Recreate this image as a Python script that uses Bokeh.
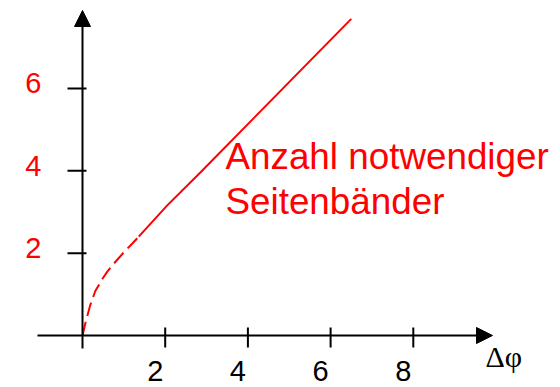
from bokeh.plotting import figure
from bokeh.models import Arrow, NormalHead, Range1d
from bokeh.core.properties import value
from bokeh.embed import file_html
from bokeh.resources import INLINE

# Number of required sidebands versus phase deviation
dphi_dashed = [0.0, 0.065, 0.185, 0.31, 0.47, 0.6, 0.71, 0.84, 1.0, 1.2, 1.36]
n_dashed = [0.0, 0.28, 0.73, 1.08, 1.36, 1.55, 1.69, 1.84, 2.02, 2.23, 2.40]
dphi_solid = [1.36, 2.05, 2.85, 6.5]
n_solid = [2.40, 3.16, 3.96, 7.69]

x_ticks = [2, 4, 6, 8]
x_tick_labels = ["2", "4", "6", "8"]
y_ticks = [2, 4, 6]
y_tick_labels = ["2", "4", "6"]
x_label = "Δφ"
note_lines = ["Anzahl notwendiger", "Seitenbänder"]

W, H = 560, 387
X0, Y0 = 82, 335        # screen position of the origin
SX, SY = 41.35, 41.17   # pixels per unit


def px_x(px):
    return (px - X0) / SX


def px_y(py):
    return (Y0 - py) / SY


p = figure(width=W, height=H, output_backend="svg", toolbar_location=None,
           x_range=Range1d(px_x(0), px_x(W)), y_range=Range1d(px_y(H), px_y(0)),
           x_axis_location=None, y_axis_location=None, min_border=0)
p.grid.visible = False
p.outline_line_color = None
p.background_fill_color = "white"
p.border_fill_color = "white"

# axes drawn as arrows through the origin
head = dict(size=16, fill_color="black", line_color="black", line_width=1)
p.add_layout(Arrow(end=NormalHead(**head), x_start=px_x(37), y_start=0,
                   x_end=px_x(492), y_end=0, line_width=2, line_color="black"))
p.add_layout(Arrow(end=NormalHead(**head), x_start=0, y_start=px_y(348),
                   x_end=0, y_end=px_y(10), line_width=2, line_color="black"))

# tick marks
p.segment(x0=x_ticks, y0=[px_y(327)] * len(x_ticks), x1=x_ticks,
          y1=[px_y(347)] * len(x_ticks), line_color="black", line_width=2)
p.segment(x0=[px_x(67)] * len(y_ticks), y0=y_ticks, x1=[px_x(86)] * len(y_ticks),
          y1=y_ticks, line_color="black", line_width=2)

# curve: dashed at small deviation, solid beyond
p.line(dphi_dashed, n_dashed, line_color="#ff0000", line_width=2, line_dash="14 6")
p.line(dphi_solid, n_solid, line_color="#ff0000", line_width=2)

sans = value("Liberation Sans")
p.text(x=x_ticks, y=[0] * len(x_ticks), text=x_tick_labels, x_offset=-10, y_offset=35,
       text_align="center", text_baseline="alphabetic", text_font=sans,
       text_font_size="29px", text_color="black")
p.text(x=[0] * len(y_ticks), y=y_ticks, text=y_tick_labels, x_offset=-41, y_offset=-5,
       text_align="right", text_baseline="alphabetic", text_font=sans,
       text_font_size="29px", text_color="#ff0000")
p.text(x=[px_x(485)], y=[0], text=[x_label], y_offset=21,
       text_align="left", text_baseline="alphabetic", text_font=value("Liberation Serif"),
       text_font_size="30px", text_color="black")
p.text(x=[px_x(225)] * 2, y=[px_y(156), px_y(201)], text=note_lines,
       text_align="left", text_baseline="alphabetic", text_font=sans,
       text_font_size="36.8px", text_color="#ff0000")

open("out.html", "w").write(file_html(p, INLINE))
